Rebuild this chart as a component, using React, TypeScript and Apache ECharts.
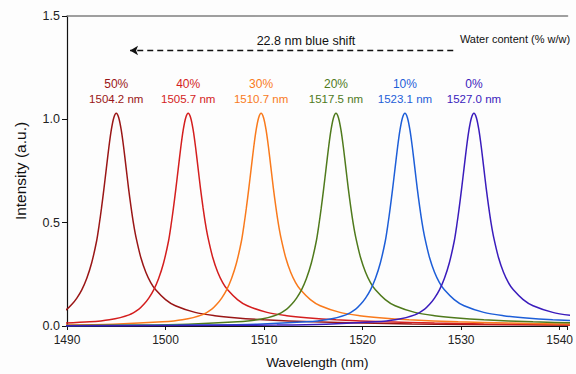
import React, { useEffect, useRef } from "react";
import * as echarts from "echarts";

const waterContent = ["50%", "40%", "30%", "20%", "10%", "0%"];
const peakLabels = ["1504.2 nm", "1505.7 nm", "1510.7 nm", "1517.5 nm", "1523.1 nm", "1527.0 nm"];
const colors = ["#9A1616", "#D41E1E", "#F97A1C", "#4F7A1C", "#1D5ED8", "#3A1CBC"];
const xTicks = [1490, 1540];
const yTicks = [0, 1.5];

const s50: number[][] = [
  [1489.0, 0.054], [1490.0, 0.082], [1490.5, 0.105], [1491.0, 0.135], [1491.5, 0.175], [1492.0, 0.23],
  [1492.5, 0.305], [1493.0, 0.41], [1493.25, 0.485], [1493.5, 0.57], [1493.75, 0.665], [1494.0, 0.765],
  [1494.25, 0.865], [1494.5, 0.95], [1494.75, 1.008], [1495.0, 1.03], [1495.25, 1.008], [1495.5, 0.95],
  [1495.75, 0.865], [1496.0, 0.765], [1496.25, 0.665], [1496.5, 0.575], [1496.75, 0.495], [1497.0, 0.43],
  [1497.5, 0.33], [1498.0, 0.26], [1498.5, 0.21], [1499.0, 0.175], [1500.0, 0.128], [1501.0, 0.098],
  [1503.0, 0.066], [1505.0, 0.05], [1507.0, 0.04], [1510.0, 0.03], [1515.0, 0.02], [1520.0, 0.014],
  [1525.0, 0.01], [1535.0, 0.006], [1545.0, 0.005],
];
const s40: number[][] = [
  [1487.3, 0.009], [1492.3, 0.02], [1494.3, 0.03], [1496.3, 0.054], [1497.3, 0.082], [1497.8, 0.105],
  [1498.3, 0.135], [1498.8, 0.175], [1499.3, 0.23], [1499.8, 0.305], [1500.3, 0.41], [1500.55, 0.485],
  [1500.8, 0.57], [1501.05, 0.665], [1501.3, 0.765], [1501.55, 0.865], [1501.8, 0.95], [1502.05, 1.008],
  [1502.3, 1.03], [1502.55, 1.008], [1502.8, 0.95], [1503.05, 0.865], [1503.3, 0.765], [1503.55, 0.665],
  [1503.8, 0.575], [1504.05, 0.495], [1504.3, 0.43], [1504.8, 0.33], [1505.3, 0.26], [1505.8, 0.21],
  [1506.3, 0.175], [1507.3, 0.128], [1508.3, 0.098], [1510.3, 0.066], [1512.3, 0.05], [1514.3, 0.04],
  [1517.3, 0.03], [1522.3, 0.02], [1527.3, 0.014], [1532.3, 0.01], [1542.3, 0.006],
];
const s30: number[][] = [
  [1489.7, 0.005], [1494.7, 0.009], [1499.7, 0.02], [1501.7, 0.03], [1503.7, 0.054], [1504.7, 0.082],
  [1505.2, 0.105], [1505.7, 0.135], [1506.2, 0.175], [1506.7, 0.23], [1507.2, 0.305], [1507.7, 0.41],
  [1507.95, 0.485], [1508.2, 0.57], [1508.45, 0.665], [1508.7, 0.765], [1508.95, 0.865], [1509.2, 0.95],
  [1509.45, 1.008], [1509.7, 1.03], [1509.95, 1.008], [1510.2, 0.95], [1510.45, 0.865], [1510.7, 0.765],
  [1510.95, 0.665], [1511.2, 0.575], [1511.45, 0.495], [1511.7, 0.43], [1512.2, 0.33], [1512.7, 0.26],
  [1513.2, 0.21], [1513.7, 0.175], [1514.7, 0.128], [1515.7, 0.098], [1517.7, 0.066], [1519.7, 0.05],
  [1521.7, 0.04], [1524.7, 0.03], [1529.7, 0.02], [1534.7, 0.014], [1539.7, 0.01], [1549.7, 0.006],
];
const s20: number[][] = [
  [1487.3, 0.002], [1497.3, 0.005], [1502.3, 0.009], [1507.3, 0.02], [1509.3, 0.03], [1511.3, 0.054],
  [1512.3, 0.082], [1512.8, 0.105], [1513.3, 0.135], [1513.8, 0.175], [1514.3, 0.23], [1514.8, 0.305],
  [1515.3, 0.41], [1515.55, 0.485], [1515.8, 0.57], [1516.05, 0.665], [1516.3, 0.765], [1516.55, 0.865],
  [1516.8, 0.95], [1517.05, 1.008], [1517.3, 1.03], [1517.55, 1.008], [1517.8, 0.95], [1518.05, 0.865],
  [1518.3, 0.765], [1518.55, 0.665], [1518.8, 0.575], [1519.05, 0.495], [1519.3, 0.43], [1519.8, 0.33],
  [1520.3, 0.26], [1520.8, 0.21], [1521.3, 0.175], [1522.3, 0.128], [1523.3, 0.098], [1525.3, 0.066],
  [1527.3, 0.05], [1529.3, 0.04], [1532.3, 0.03], [1537.3, 0.02], [1542.3, 0.014],
];
const s10: number[][] = [
  [1484.3, 0.001], [1494.3, 0.002], [1504.3, 0.005], [1509.3, 0.009], [1514.3, 0.02], [1516.3, 0.03],
  [1518.3, 0.054], [1519.3, 0.082], [1519.8, 0.105], [1520.3, 0.135], [1520.8, 0.175], [1521.3, 0.23],
  [1521.8, 0.305], [1522.3, 0.41], [1522.55, 0.485], [1522.8, 0.57], [1523.05, 0.665], [1523.3, 0.765],
  [1523.55, 0.865], [1523.8, 0.95], [1524.05, 1.008], [1524.3, 1.03], [1524.55, 1.008], [1524.8, 0.95],
  [1525.05, 0.865], [1525.3, 0.765], [1525.55, 0.665], [1525.8, 0.575], [1526.05, 0.495], [1526.3, 0.43],
  [1526.8, 0.33], [1527.3, 0.26], [1527.8, 0.21], [1528.3, 0.175], [1529.3, 0.128], [1530.3, 0.098],
  [1532.3, 0.066], [1534.3, 0.05], [1536.3, 0.04], [1539.3, 0.03], [1544.3, 0.02],
];
const s0: number[][] = [
  [1486.3, 0.001], [1501.3, 0.002], [1511.3, 0.005], [1516.3, 0.009], [1521.3, 0.02], [1523.3, 0.03],
  [1525.3, 0.054], [1526.3, 0.082], [1526.8, 0.105], [1527.3, 0.135], [1527.8, 0.175], [1528.3, 0.23],
  [1528.8, 0.305], [1529.3, 0.41], [1529.55, 0.485], [1529.8, 0.57], [1530.05, 0.665], [1530.3, 0.765],
  [1530.55, 0.865], [1530.8, 0.95], [1531.05, 1.008], [1531.3, 1.03], [1531.55, 1.008], [1531.8, 0.95],
  [1532.05, 0.865], [1532.3, 0.765], [1532.55, 0.665], [1532.8, 0.575], [1533.05, 0.495], [1533.3, 0.43],
  [1533.8, 0.33], [1534.3, 0.26], [1534.8, 0.21], [1535.3, 0.175], [1536.3, 0.128], [1537.3, 0.098],
  [1539.3, 0.066], [1541.3, 0.05],
];
const spectra = [s50, s40, s30, s20, s10, s0];
const shiftArrow = { from: 1529.2, to: 1496.4, level: 1.333 };

const FONT = "'Liberation Sans', Arial, Helvetica, sans-serif";

export default function App() {
  const ref = useRef<HTMLDivElement>(null);
  useEffect(() => {
    if (!ref.current) return;
    const chart = echarts.init(ref.current, undefined, { renderer: "svg" });
    const series: any[] = spectra.map((data, i) => ({
      type: "line",
      name: waterContent[i],
      data,
      smooth: 0.3,
      showSymbol: false,
      symbol: "none",
      lineStyle: { color: colors[i], width: 1.5 },
      itemStyle: { color: colors[i] },
      clip: true,
      markPoint: {
        symbol: "circle",
        symbolSize: 1,
        itemStyle: { color: "rgba(0,0,0,0)" },
        silent: true,
        data: [{ type: "max" }],
        label: {
          show: true,
          position: "top",
          distance: 6,
          formatter: `{p|${waterContent[i]}}\n{n|${peakLabels[i]}}`,
          rich: {
            p: { color: colors[i], fontSize: 12, lineHeight: 15, fontFamily: FONT, align: "center" },
            n: { color: colors[i], fontSize: 11.5, lineHeight: 15, fontFamily: FONT, align: "center" },
          },
        },
      },
    }));
    series[0].markLine = {
      silent: true,
      symbol: ["none", "arrow"],
      symbolSize: [7, 8],
      label: { show: false },
      lineStyle: { color: "#111", type: [6, 4], width: 1.3 },
      data: [[
        { coord: [shiftArrow.from, shiftArrow.level] },
        { coord: [shiftArrow.to, shiftArrow.level] },
      ]],
    };
    chart.setOption({
      animation: false,
      backgroundColor: "#fdfdfd",
      textStyle: { fontFamily: FONT },
      grid: { left: 67, right: 0, top: 16, bottom: 45, containLabel: false },
      xAxis: [
        {
          type: "value",
          min: xTicks[0],
          max: 1540.8,
          interval: 10,
          name: "Wavelength (nm)",
          nameLocation: "middle",
          nameGap: 29,
          nameTextStyle: { fontSize: 13.5, color: "#111", fontFamily: FONT },
          axisLine: { show: true, lineStyle: { color: "#111", width: 1.2 } },
          axisTick: { show: true, length: 4, lineStyle: { color: "#111" } },
          axisLabel: {
            fontSize: 12, color: "#222", margin: 8, fontFamily: FONT,
            showMaxLabel: true, alignMaxLabel: "right",
            formatter: (v: number) => (v <= xTicks[1] ? String(v) : ""),
          },
          splitLine: { show: false },
        },
        {
          type: "value",
          position: "top",
          min: xTicks[0],
          max: 1540.8,
          axisLine: { show: true, onZero: false, lineStyle: { color: "#808080", width: 1.5 } },
          axisTick: { show: false },
          axisLabel: { show: false },
          splitLine: { show: false },
        },
      ],
      yAxis: {
        type: "value",
        min: yTicks[0],
        max: yTicks[1],
        interval: 0.5,
        name: "Intensity (a.u.)",
        nameLocation: "middle",
        nameGap: 39,
        nameTextStyle: { fontSize: 15.5, color: "#111", fontFamily: FONT },
        axisLine: { show: true, lineStyle: { color: "#111", width: 1.2 } },
        axisTick: { show: true, length: 5, lineStyle: { color: "#111" } },
        axisLabel: {
          fontSize: 12.5, color: "#222", margin: 7, fontFamily: FONT,
          formatter: (v: number) => v.toFixed(1),
        },
        splitLine: { show: false },
      },
      graphic: [
        {
          type: "text",
          x: 306,
          y: 41,
          style: {
            text: "22.8 nm blue shift",
            fontSize: 12.5,
            fontFamily: FONT,
            fill: "#111",
            textAlign: "center",
            textVerticalAlign: "middle",
          },
        },
        {
          type: "text",
          x: 515,
          y: 39,
          style: {
            text: "Water content (% w/w)",
            fontSize: 11,
            fontFamily: FONT,
            fill: "#111",
            textAlign: "center",
            textVerticalAlign: "middle",
          },
        },
      ],
      series,
    });
    return () => chart.dispose();
  }, []);
  return (
    <div
      ref={ref}
      style={{ position: "fixed", left: 0, top: 0, width: 576, height: 374 }}
    />
  );
}
